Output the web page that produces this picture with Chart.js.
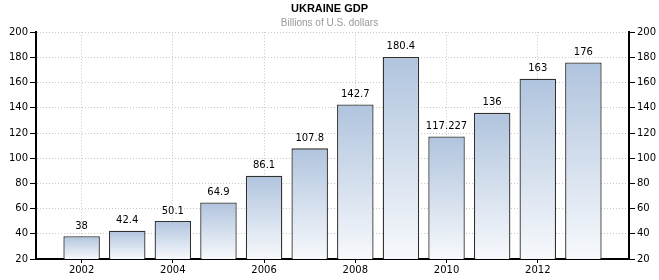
<!DOCTYPE html>
<html>
<head>
<meta charset="utf-8">
<script src="https://cdn.jsdelivr.net/npm/chart.js@4"></script>
<style>
  body { margin: 0; background: #fff; }
  #wrap { width: 659px; height: 280px; position: relative; }
</style>
</head>
<body>
<div id="wrap"><canvas id="gdpChart"></canvas></div>
<script>
// data
const years = [2002, 2003, 2004, 2005, 2006, 2007, 2008, 2009, 2010, 2011, 2012, 2013];
const gdp = [38, 42.4, 50.1, 64.9, 86.1, 107.8, 142.7, 180.4, 117.227, 136, 163, 176];
const yearTicks = [2002, 2004, 2006, 2008, 2010, 2012];
const valueTicks = [20, 40, 60, 80, 100, 120, 140, 160, 180, 200];

const tickFont = { family: 'DejaVu Sans', size: 10 };

// bar gradient, top of each bar to the axis
const barFill = (context) => {
    const chart = context.chart;
    const area = chart.chartArea;
    if (!area || !context.parsed) return '#c8d6ea';
    const top = chart.scales.y.getPixelForValue(context.parsed.y);
    const g = chart.ctx.createLinearGradient(0, top, 0, area.bottom);
    g.addColorStop(0, '#b0c4de');
    g.addColorStop(1, '#f7f9fc');
    return g;
};

// value labels above bars
const valueLabels = {
    id: 'valueLabels',
    afterDatasetsDraw(chart) {
        const c = chart.ctx;
        const meta = chart.getDatasetMeta(0);
        c.save();
        c.font = '10px "DejaVu Sans"';
        c.fillStyle = '#000';
        c.textAlign = 'center';
        c.textBaseline = 'bottom';
        meta.data.forEach((bar, i) => {
            c.fillText(String(gdp[i]), bar.x, bar.y - 5);
        });
        c.restore();
    }
};

const ctx = document.getElementById('gdpChart').getContext('2d');

const gdpChart = new Chart(ctx, {
    type: 'bar',
    data: {
        datasets: [{
            label: 'GDP',
            data: years.map((yr, i) => ({ x: yr, y: gdp[i] })),
            backgroundColor: barFill,
            borderColor: '#303030',
            borderWidth: 1.3,
            borderSkipped: false,
            barPercentage: 0.8,
            categoryPercentage: 1
        }]
    },
    options: {
        responsive: true,
        maintainAspectRatio: false,
        animation: false,
        layout: { padding: 0 },
        plugins: {
            legend: { display: false },
            tooltip: { enabled: false },
            title: {
                display: true,
                text: 'UKRAINE GDP',
                color: '#000',
                font: { family: 'Liberation Sans', size: 11, weight: 'bold' },
                padding: { top: 2, bottom: 0 }
            },
            subtitle: {
                display: true,
                text: 'Billions of U.S. dollars',
                color: '#999',
                font: { family: 'Liberation Sans', size: 10 },
                padding: { top: 2, bottom: 3 }
            }
        },
        scales: {
            x: {
                type: 'linear',
                offset: false,
                min: 2001,
                max: 2014,
                afterBuildTicks: (s) => { s.ticks = yearTicks.map(v => ({ value: v })); },
                afterFit: (s) => { s.height = 21; },
                grid: { color: '#c8c8c8', offset: false, tickColor: '#000', tickLength: 4, tickWidth: 1, tickBorderDash: [] },
                border: { display: true, color: '#000', width: 2, dash: [1, 2] },
                ticks: {
                    font: tickFont, color: '#000', padding: 1,
                    autoSkip: false, maxRotation: 0,
                    callback: (v) => String(v)
                }
            },
            y: {
                position: 'left',
                min: 20,
                max: 200,
                afterBuildTicks: (s) => { s.ticks = valueTicks.map(v => ({ value: v })); },
                afterFit: (s) => { s.width = 36; },
                grid: { color: '#c8c8c8', tickColor: '#000', tickLength: 6, tickWidth: 1, tickBorderDash: [] },
                border: { display: true, color: '#000', width: 2, dash: [1, 2] },
                ticks: { font: tickFont, color: '#000', padding: 2 }
            },
            y2: {
                position: 'right',
                min: 20,
                max: 200,
                afterBuildTicks: (s) => { s.ticks = valueTicks.map(v => ({ value: v })); },
                afterFit: (s) => { s.width = 30; },
                grid: { drawOnChartArea: false, tickColor: '#000', tickLength: 6, tickWidth: 1 },
                border: { display: true, color: '#000', width: 2 },
                ticks: { font: tickFont, color: '#000', padding: 2 }
            }
        }
    },
    plugins: [valueLabels]
});
</script>
</body>
</html>
